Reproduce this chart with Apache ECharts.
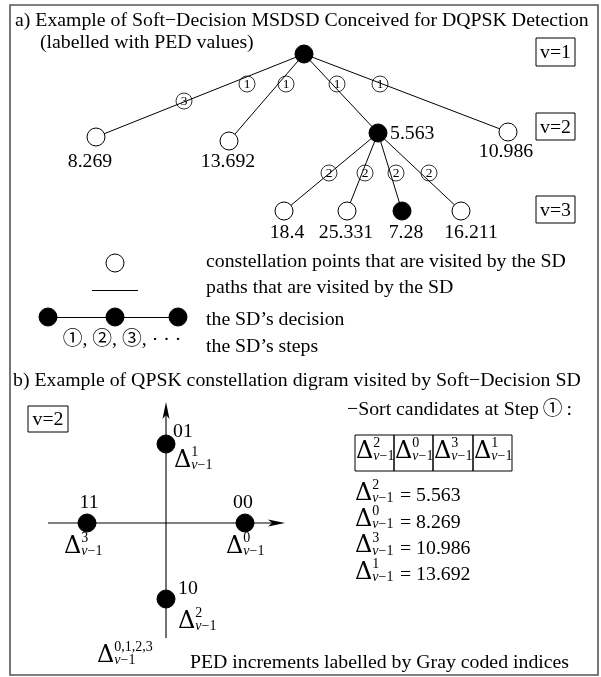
<!DOCTYPE html>
<html><head><meta charset="utf-8">
<script src="https://cdn.jsdelivr.net/npm/echarts@6/dist/echarts.min.js"></script>
<style>html,body{margin:0;padding:0;background:#fff}#c{width:601px;height:677px}</style>
</head><body><div id="c"></div>
<script>
// ================= DATA =================
const level2PED = [8.269, 13.692, 5.563, 10.986];   // children of root (Δ^0..Δ^3)
const level3PED = [18.4, 25.331, 7.28, 16.211];     // children of the chosen v=2 node
const level1Decision = true;
const level2Decision = 2;   // index of chosen node at v=2
const level3Decision = 2;   // index of chosen node at v=3
const level1Steps = [3, 1, 1, 1, 1];                // step marks on root edges
const level2Steps = [2, 2, 2, 2];
const levelNames = ['v=1', 'v=2', 'v=3'];
const grayCodes = ['00', '01', '10', '11'];         // index = Δ superscript
const sortedIdx = [2, 0, 3, 1];                     // candidates sorted at step 1
const deltaPED = [8.269, 13.692, 5.563, 10.986];    // Δ^0_{v-1} .. Δ^3_{v-1}
const legendTexts = ['constellation points that are visited by the SD',
                     'paths that are visited by the SD',
                     'the SD\u2019s decision',
                     'the SD\u2019s steps'];
const titleA1 = 'a) Example of Soft\u2212Decision MSDSD Conceived for DQPSK Detection';
const titleA2 = '(labelled with PED values)';
const titleB = 'b) Example of QPSK constellation digram visited by Soft\u2212Decision SD';
const sortText = '\u2212Sort candidates at Step\u2009\u2460\u2009:';
const stepsText = '\u2460, \u2461, \u2462, \u00b7 \u00b7 \u00b7';
const footText = 'PED increments labelled by Gray coded indices';

// ================= LAYOUT (pixel space of a hidden 601x677 value grid) =================
const LY = {
  frame: [10, 5, 598, 675],
  root: [304, 54],
  l2: [[96, 137], [229, 141], [378, 133], [508, 132]],
  l2Label: [[90, 162, 'center'], [228, 162, 'center'], [390, 134, 'left'], [506, 152, 'center']],
  l3: [[284, 211], [347, 211], [402, 211], [461, 211]],
  l3Label: [[287, 233], [346, 233], [406, 233], [471, 233]],
  step1Pos: [[184, 101], [247, 84], [286, 84], [337, 84], [380, 84]],
  step2Pos: [[329, 173], [365, 173], [396, 173], [429, 173]],
  vBoxes: [[536, 38, 575, 66], [536, 113, 575, 140], [536, 196, 575, 223]],
  legendY: [262, 288, 320, 347], legendX: 206,
  legCircle: [115, 263], legLine: [[92, 290], [138, 290]],
  legDecision: [[48, 317], [115, 317], [178, 317]],
  legSteps: [122, 340],
  titleA1: [15, 21], titleA2: [40, 43], titleB: [13, 381],
  vBoxB: [28, 406, 68, 432],
  axV: [[166, 638], [166, 402]], axH: [[48, 523], [285, 523]],
  qpsk: [[245, 523], [166, 444], [166, 599], [87, 523]],
  qpskCode: [[243, 503], [183, 432], [188, 589], [89, 503]],
  qpskDelta: [[226, 555], [174, 469], [178, 630], [64, 555]],
  deltaAll: [97, 664],
  sortText: [347, 410],
  cells: [355, 394, 433, 473, 512], cellY: [435, 471], cellBase: 460,
  eqX: 355, eqBase0: 502, eqStep: 26.3,
  foot: [190, 663]
};

const FONT = '"Liberation Serif", "Times New Roman", serif';
const SYMF = '"Liberation Serif", "Noto Sans CJK JP", "DejaVu Sans", serif';
const TF = 19.8;

// ---------- build series data ----------
const treeEdges = [];
LY.l2.forEach(p => treeEdges.push({coords: [LY.root, p]}));
LY.l3.forEach(p => treeEdges.push({coords: [LY.l2[level2Decision], p]}));
const legendLines = [{coords: LY.legLine}, {coords: [LY.legDecision[0], LY.legDecision[2]]}];

const nodeData = [];
nodeData.push({value: LY.root, filled: level1Decision});
level2PED.forEach((v, i) => nodeData.push({value: LY.l2[i], filled: i === level2Decision}));
level3PED.forEach((v, i) => nodeData.push({value: LY.l3[i], filled: i === level3Decision}));
nodeData.push({value: LY.legCircle, filled: false});
LY.legDecision.forEach(p => nodeData.push({value: p, filled: true}));
grayCodes.forEach((g, i) => nodeData.push({value: LY.qpsk[i], filled: true}));

const stepData = [];
level1Steps.forEach((s, i) => stepData.push([LY.step1Pos[i][0], LY.step1Pos[i][1], s]));
level2Steps.forEach((s, i) => stepData.push([LY.step2Pos[i][0], LY.step2Pos[i][1], s]));

const texts = [];
texts.push({p: LY.titleA1, t: titleA1});
texts.push({p: LY.titleA2, t: titleA2});
texts.push({p: LY.titleB, t: titleB});
level2PED.forEach((v, i) => texts.push({p: LY.l2Label[i], t: String(v), a: LY.l2Label[i][2]}));
level3PED.forEach((v, i) => texts.push({p: LY.l3Label[i], t: String(v), a: 'center'}));
legendTexts.forEach((t, i) => texts.push({p: [LY.legendX, LY.legendY[i]], t}));
texts.push({p: LY.legSteps, t: stepsText, a: 'center', f: SYMF});
texts.push({p: LY.sortText, t: sortText, f: SYMF});
texts.push({p: LY.foot, t: footText});
grayCodes.forEach((g, i) => texts.push({p: LY.qpskCode[i], t: g, a: 'center'}));

const boxes = [];
boxes.push({r: LY.frame, c: '#555', w: 1.6});
levelNames.forEach((n, i) => boxes.push({r: LY.vBoxes[i], c: '#000', w: 1, t: n}));
boxes.push({r: LY.vBoxB, c: '#000', w: 1, t: levelNames[1]});
sortedIdx.forEach((k, i) => boxes.push({r: [LY.cells[i], LY.cellY[0], LY.cells[i + 1], LY.cellY[1]], c: '#000', w: 1}));

const maths = [];
grayCodes.forEach((g, i) => maths.push({p: LY.qpskDelta[i], sup: String(i)}));
maths.push({p: LY.deltaAll, sup: '0,1,2,3'});
sortedIdx.forEach((k, i) => maths.push({p: [LY.cells[i] + 1, LY.cellBase], sup: String(k)}));
sortedIdx.forEach((k, i) => maths.push({p: [LY.eqX, LY.eqBase0 + LY.eqStep * i], sup: String(k), after: '= ' + deltaPED[k]}));

// ---------- render helpers ----------
const DF = 24, SF = 14;
const DFONT = DF + 'px "DejaVu Serif"';
const mctx = document.createElement('canvas').getContext('2d');
mctx.font = DFONT;
const DW = mctx.measureText('\u0394').width;

function mathGroup(api, m) {
  const P = api.coord(m.p);
  const X = P[0], B = P[1];
  const ch = [
    {type: 'text', x: X, y: B - 0.35 * DF, style: {text: '\u0394', font: DFONT, fill: '#000', align: 'left', verticalAlign: 'middle'}},
    {type: 'text', x: X + DW, y: B - 12 - 0.34 * SF, style: {text: m.sup, font: SF + 'px ' + FONT, fill: '#000', align: 'left', verticalAlign: 'middle'}},
    {type: 'text', x: X + DW, y: B + 1 - 0.34 * SF, style: {text: '{i|v}\u22121', font: SF + 'px ' + FONT, fill: '#000', align: 'left', verticalAlign: 'middle',
      rich: {i: {fontStyle: 'italic', fontSize: SF, fontFamily: FONT}}}}
  ];
  if (m.after) ch.push({type: 'text', x: X + 45, y: B + 1 - 0.34 * TF, style: {text: m.after, font: TF + 'px ' + FONT, fill: '#000', align: 'left', verticalAlign: 'middle'}});
  return {type: 'group', children: ch};
}

function arrowGroup(api, seg) {
  const a = api.coord(seg[0]), b = api.coord(seg[1]);
  const dx = b[0] - a[0], dy = b[1] - a[1], L = Math.hypot(dx, dy);
  const ux = dx / L, uy = dy / L, nx = -uy, ny = ux;
  const len = 17, hw = 3.5, notch = 4;
  const base = [b[0] - ux * len, b[1] - uy * len];
  const inner = [b[0] - ux * (len - notch), b[1] - uy * (len - notch)];
  return {type: 'group', children: [
    {type: 'line', shape: {x1: a[0], y1: a[1], x2: inner[0], y2: inner[1]}, style: {stroke: '#000', lineWidth: 1.1}},
    {type: 'polygon', shape: {points: [b, [base[0] + nx * hw, base[1] + ny * hw], inner, [base[0] - nx * hw, base[1] - ny * hw]]}, style: {fill: '#000'}}
  ]};
}

const chart = echarts.init(document.getElementById('c'), null, {renderer: 'canvas'});
chart.setOption({
  animation: false,
  backgroundColor: '#fff',
  grid: {left: 0, right: 0, top: 0, bottom: 0},
  xAxis: {type: 'value', min: 0, max: 601, show: false},
  yAxis: {type: 'value', min: 0, max: 677, inverse: true, show: false},
  series: [
    {type: 'custom', name: 'boxes', z: 1, silent: true, data: boxes.map((b, i) => [b.r[0], b.r[1], i]),
      renderItem: (params, api) => {
        const b = boxes[params.dataIndex];
        const p1 = api.coord([b.r[0], b.r[1]]), p2 = api.coord([b.r[2], b.r[3]]);
        const ch = [{type: 'rect', shape: {x: p1[0], y: p1[1], width: p2[0] - p1[0], height: p2[1] - p1[1]}, style: {fill: 'none', stroke: b.c, lineWidth: b.w}}];
        if (b.t) ch.push({type: 'text', x: (p1[0] + p2[0]) / 2, y: (p1[1] + p2[1]) / 2 + 1, style: {text: b.t, font: TF + 'px ' + FONT, fill: '#000', align: 'center', verticalAlign: 'middle'}});
        return {type: 'group', children: ch};
      }},
    {type: 'lines', coordinateSystem: 'cartesian2d', z: 2, silent: true, data: treeEdges.concat(legendLines),
      lineStyle: {color: '#000', width: 1, opacity: 1}},
    {type: 'custom', name: 'axes', z: 2, silent: true, data: [[0], [1]],
      renderItem: (params, api) => arrowGroup(api, params.dataIndex === 0 ? LY.axV : LY.axH)},
    {type: 'scatter', z: 3, silent: true, symbol: 'circle', symbolSize: 18,
      data: nodeData.map(n => ({value: n.value, itemStyle: {color: n.filled ? '#000' : '#fff', borderColor: '#000', borderWidth: 1, opacity: 1}}))},
    {type: 'scatter', z: 4, silent: true, symbol: 'circle', symbolSize: 16, data: stepData,
      itemStyle: {color: 'rgba(0,0,0,0)', borderColor: '#000', borderWidth: 0.8, opacity: 1},
      label: {show: true, position: 'inside', formatter: p => p.value[2], color: '#000', fontSize: 13.5, fontFamily: FONT}},
    {type: 'custom', name: 'texts', z: 5, silent: true, data: texts.map((t, i) => [t.p[0], t.p[1], i]),
      renderItem: (params, api) => {
        const t = texts[params.dataIndex];
        const p = api.coord([t.p[0], t.p[1]]);
        return {type: 'text', x: p[0], y: p[1], style: {text: t.t, font: TF + 'px ' + (t.f || FONT), fill: '#000', align: t.a || 'left', verticalAlign: 'middle'}};
      }},
    {type: 'custom', name: 'maths', z: 5, silent: true, data: maths.map((m, i) => [m.p[0], m.p[1], i]),
      renderItem: (params, api) => mathGroup(api, maths[params.dataIndex])}
  ]
});
</script>
</body></html>
